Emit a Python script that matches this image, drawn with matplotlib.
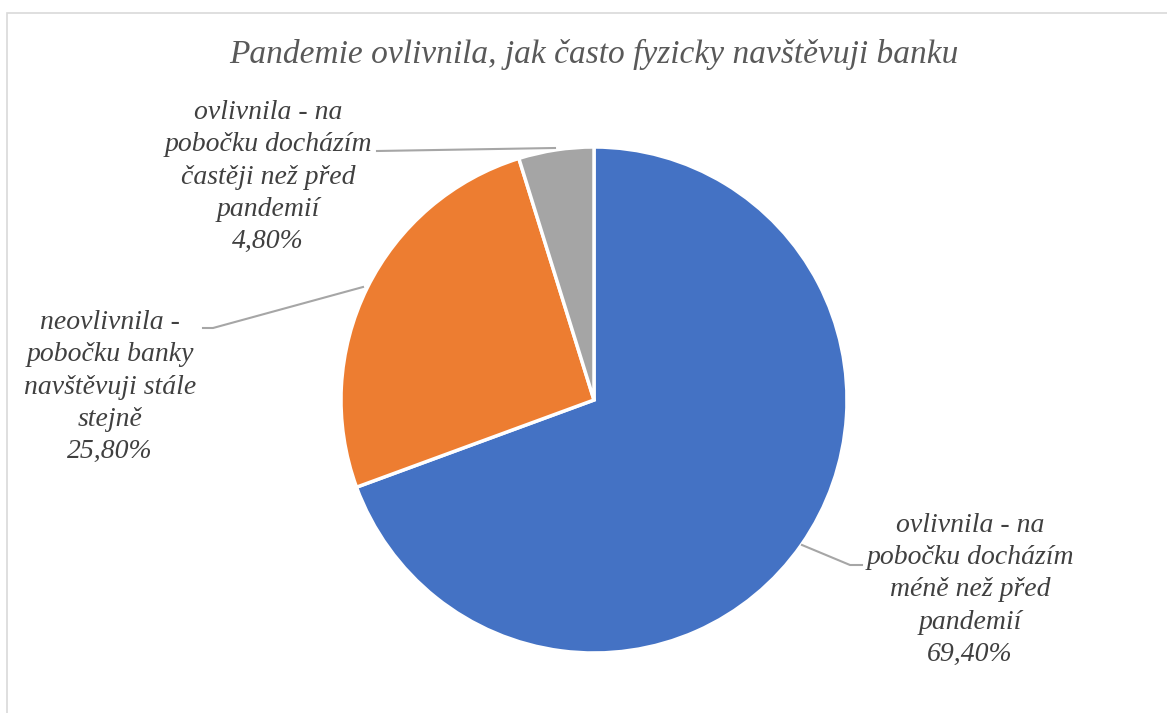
import matplotlib
matplotlib.use("Agg")
import matplotlib.pyplot as plt
from matplotlib.patches import Rectangle

W, H = 1167, 713

title = "Pandemie ovlivnila, jak často fyzicky navštěvuji banku"
labels = [
    "ovlivnila - na\npobočku docházím\nméně než před\npandemií",
    "neovlivnila -\npobočku banky\nnavštěvuji stále\nstejně",
    "ovlivnila - na\npobočku docházím\nčastěji než před\npandemií",
]
values = [69.4, 25.8, 4.8]
colors = ["#4472C4", "#ED7D31", "#A5A5A5"]

# label block centres and leader lines (pixel coords, y from top)
label_pos = [(970, 590), (110, 387), (268, 177)]
leaders = [
    [(802, 545), (850, 565), (862, 565)],
    [(363, 287), (213, 328), (203, 328)],
    [(555, 148), (377, 151)],
]

plt.rcParams["font.family"] = ["Liberation Serif", "DejaVu Serif"]

fig = plt.figure(figsize=(W / 100, H / 100), dpi=100)
ax = fig.add_axes([0, 0, 1, 1])

# chart frame
ax.add_patch(Rectangle((7, -20), W + 20, H - 13 + 20, fill=False,
                       edgecolor="#D9D9D9", lw=1.2))

cx, cy, r = 594, H - 400, 253
ax.pie(values, colors=colors, startangle=90, counterclock=False,
       center=(cx, cy), radius=r, frame=True,
       wedgeprops=dict(edgecolor="white", linewidth=2.5))
ax.set_xlim(0, W)
ax.set_ylim(0, H)
ax.set_aspect("equal")
ax.axis("off")

ax.text(594, H - 54, title, ha="center", va="center", fontsize=24,
        style="italic", color="#595959")

for lab, v, (lx, ly), pts in zip(labels, values, label_pos, leaders):
    txt = lab + "\n" + f"{v:.2f}%".replace(".", ",")
    ax.text(lx, H - ly, txt, ha="center", va="center", fontsize=20,
            style="italic", color="#404040", linespacing=1.38)
    xs = [p[0] for p in pts]
    ys = [H - p[1] for p in pts]
    ax.plot(xs, ys, color="#A6A6A6", lw=1.5)

fig.savefig("out.png", dpi=100)
